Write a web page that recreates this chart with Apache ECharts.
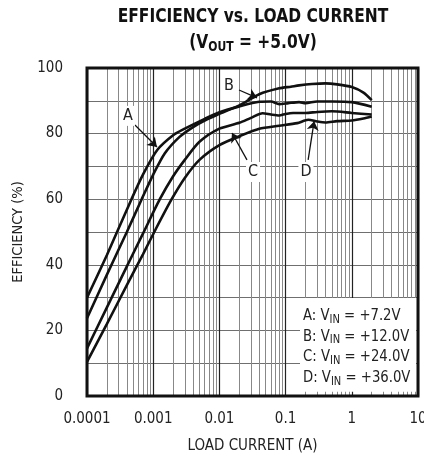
<!DOCTYPE html>
<html><head><meta charset="utf-8">
<script src="https://cdn.jsdelivr.net/npm/echarts@6/dist/echarts.min.js"></script>
<style>html,body{margin:0;padding:0;background:#fff}#c{width:424px;height:458px}</style>
</head><body><div id="c"></div>
<script>
const FONT = "'Liberation Sans Narrow','DejaVu Sans Condensed','Arial Narrow',sans-serif";
const xTickLabels = ['0.0001','0.001','0.01','0.1','1','10'];
const yTickLabels = ['0','20','40','60','80','100'];
const seriesNames = ['A: VIN = +7.2V','B: VIN = +12.0V','C: VIN = +24.0V','D: VIN = +36.0V'];
const legendVin = ['+7.2V','+12.0V','+24.0V','+36.0V'];
const curveA = [[1e-4,30],[2e-4,43],[4.7e-4,60],[7e-4,67.5],[1.15e-3,75],[2e-3,79.5],[3e-3,81.5],[6e-3,84.5],[0.01,86.5],[0.02,88.3],[0.04,89.7],[0.06,89.8],[0.08,89.0],[0.11,89.3],[0.16,89.6],[0.2,89.3],[0.3,89.8],[0.5,89.8],[1,89.6],[2,88.2]];
const curveB = [[1e-4,23.7],[2e-4,37],[4e-4,50],[6.7e-4,60],[1e-3,67.5],[1.5e-3,74],[2.5e-3,79],[4e-3,82],[6e-3,84],[0.01,86],[0.02,88.6],[0.04,92],[0.08,93.8],[0.12,94.3],[0.16,94.7],[0.25,95.1],[0.4,95.3],[0.6,95],[1,94.2],[1.5,92.5],[2,90.2]];
const curveC = [[1e-4,14.5],[2e-4,27],[4e-4,39.5],[7e-4,49.5],[1.26e-3,60],[2e-3,67],[3e-3,72],[5e-3,77.5],[0.01,81.5],[0.02,83.3],[0.03,84.8],[0.045,86.2],[0.06,85.8],[0.08,85.5],[0.1,86],[0.13,86.3],[0.2,86.3],[0.3,86.6],[0.5,86.8],[1,86.3],[2,85.8]];
const curveD = [[1e-4,10.4],[2e-4,22],[4e-4,33.8],[7e-4,43.2],[1.1e-3,51],[1.9e-3,60],[3e-3,66.5],[5e-3,72],[0.01,76.5],[0.02,79.2],[0.04,81.5],[0.08,82.4],[0.15,83.2],[0.22,84.2],[0.3,83.7],[0.4,83.4],[0.6,83.8],[1,84],[1.5,84.6],[2,85.2]];
const curves = [curveA, curveB, curveC, curveD];
// annotation anchors (data space)
const labelPos = {A:[4.16e-4,85.4], B:[0.01396,94.5], C:[0.0322,68.3], D:[0.203,68.3]};
const arrows = [
  [[5.3e-4,82.6],[1.14e-3,75.9]],
  [[0.0198,93.3],[0.037,90.9]],
  [[0.0261,72],[0.0155,80.2]],
  [[0.219,72],[0.27,83.8]]
];
const legendBox = [[0.165,1.3],[10,29.9]];
const minorLines = [];
for (let d = -4; d < 1; d++) for (let m = 2; m <= 9; m++) minorLines.push(m * Math.pow(10, d));

const chart = echarts.init(document.getElementById('c'));
const lineSeries = curves.map((c, i) => ({
  type: 'line', name: seriesNames[i], data: c, showSymbol: false, smooth: 0.25, z: 5,
  lineStyle: {color: '#111', width: 2.6}, itemStyle: {color: '#111'}
}));
chart.setOption({
  animation: false,
  backgroundColor: '#fff',
  grid: {left: 87, right: 6, top: 68, bottom: 62, containLabel: false, outerBoundsMode: 'none',
    show: true, borderColor: '#111', borderWidth: 3, backgroundColor: 'transparent', z: 8},
  xAxis: {
    type: 'log', min: 0.0001, max: 10, logBase: 10,
    axisLine: {show: false}, axisTick: {show: false},
    splitLine: {show: true, lineStyle: {color: '#222', width: 1.2}},
    axisLabel: {margin: 16, fontFamily: FONT, fontSize: 15, color: '#222',
      formatter: v => xTickLabels[Math.round(Math.log10(v)) + 4]},
    name: 'LOAD CURRENT (A)', nameLocation: 'middle', nameGap: 43,
    nameTextStyle: {fontFamily: FONT, fontSize: 15, color: '#222'}
  },
  yAxis: {
    type: 'value', min: 0, max: 100, interval: 10,
    axisLine: {show: false}, axisTick: {show: false},
    splitLine: {show: true, lineStyle: {color: '#6f6f6f', width: 1}},
    axisLabel: {margin: 24, fontFamily: FONT, fontSize: 15, color: '#222',
      formatter: v => (v % 20 === 0 ? yTickLabels[v / 20] : '')},
    name: 'EFFICIENCY (%)', nameLocation: 'middle', nameGap: 61, nameRotate: 90,
    nameTextStyle: {fontFamily: FONT, fontSize: 14.5, color: '#222'}
  },
  series: [
    {type: 'line', data: [], z: 1, silent: true,
     markLine: {silent: true, symbol: 'none', label: {show: false},
       lineStyle: {color: '#888', width: 1, type: 'solid'},
       data: minorLines.map(v => [{coord: [v, 0]}, {coord: [v, 100]}])}},
    ...lineSeries,
    {type: 'line', data: [], z: 6, silent: true,
     markLine: {silent: true, symbol: ['none', 'arrow'], symbolSize: 9, label: {show: false},
       lineStyle: {color: '#111', width: 1.3, type: 'solid'},
       data: arrows.map(a => [{coord: a[0]}, {coord: a[1]}])}}
  ]
});

const P = p => chart.convertToPixel({gridIndex: 0}, p);
const g = [];
// title
g.push({type: 'text', x: 253, y: 17, z: 20, scaleX: 0.86, style: {text: 'EFFICIENCY vs. LOAD CURRENT', fontFamily: FONT, fontWeight: 'bold', fontSize: 20, fill: '#111', align: 'center', verticalAlign: 'middle'}});
g.push({type: 'text', x: 253, y: 43, z: 20, scaleX: 0.86, style: {text: '{b|(V}{s|OUT}{b| = +5.0V)}', align: 'center', verticalAlign: 'middle',
  rich: {b: {fontFamily: FONT, fontWeight: 'bold', fontSize: 20, fill: '#111'}, s: {fontFamily: FONT, fontWeight: 'bold', fontSize: 14, fill: '#111', padding: [8, 0, 0, 0]}}}});
// legend box
const b0 = P(legendBox[0]), b1 = P(legendBox[1]);
g.push({type: 'rect', z: 9, shape: {x: b0[0], y: b1[1], width: b1[0] - b0[0] - 2, height: b0[1] - b1[1]}, style: {fill: '#fff'}});
['A','B','C','D'].forEach((k, i) => {
  g.push({type: 'text', x: b0[0] + 3, y: b1[1] + 18 + i * 20.7, z: 11, scaleX: 0.92,
    style: {text: '{n|' + k + ': V}{s|IN}{n| = ' + legendVin[i] + '}', verticalAlign: 'middle', align: 'left',
      rich: {n: {fontFamily: FONT, fontSize: 16, fill: '#222'}, s: {fontFamily: FONT, fontSize: 12, fill: '#222', padding: [7, 0, 0, 0]}}}});
  const lp = P(labelPos[k]);
  g.push({type: 'text', x: lp[0], y: lp[1], z: 11,
    style: {text: k, fontFamily: FONT, fontSize: 16, fill: '#222', align: 'center', verticalAlign: 'middle', backgroundColor: '#fff', padding: [2, 2]}});
});
chart.setOption({graphic: g});
</script></body></html>
